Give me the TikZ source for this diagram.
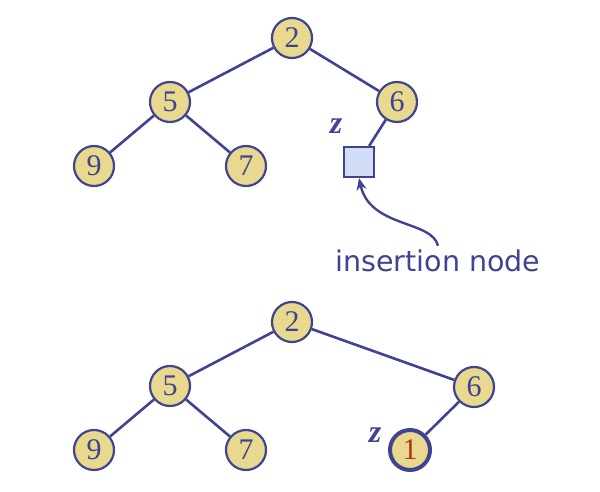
\documentclass[tikz,border=0pt]{standalone}
\usepackage{fontspec}
\setmainfont{Liberation Serif}
\newfontfamily\labelfont{DejaVu Sans}
\usetikzlibrary{arrows.meta}
\definecolor{navy}{HTML}{3F4391}
\definecolor{keyfill}{HTML}{E8D98E}
\definecolor{sqfill}{HTML}{D2DEF8}
\definecolor{newred}{HTML}{B0341C}
\tikzset{
  key/.style={circle, draw=navy, fill=keyfill, line width=2.2pt, minimum size=40pt, inner sep=0pt, text=navy, font=\fontsize{30}{30}\selectfont},
  newkey/.style={key, line width=4pt, minimum size=40pt, text=newred},
  extnode/.style={rectangle, draw=navy, fill=sqfill, line width=2.2pt, minimum size=30pt, inner sep=0pt},
  edge/.style={draw=navy, line width=2.6pt},
  zlabel/.style={text=navy, font=\fontsize{32}{32}\selectfont\bfseries\itshape},
  pointer/.style={draw=navy, line width=2.4pt, -{Stealth[length=12pt,width=10pt]}}
}
\begin{document}
\begin{tikzpicture}[x=1pt,y=-1pt]
\useasboundingbox (0,0) rectangle (600,492);
% top tree
\node[key] (a2) at (292,38) {2};
\node[key] (a5) at (170,102) {5};
\node[key] (a6) at (397,102) {6};
\node[key] (a9) at (94,166) {9};
\node[key] (a7) at (246,166) {7};
\node[extnode] (az) at (359,162) {};
\node[zlabel] (zl1) at (336,126) {z};
\draw[edge] (a2) -- (a5);
\draw[edge] (a2) -- (a6);
\draw[edge] (a5) -- (a9);
\draw[edge] (a5) -- (a7);
\draw[edge] (a6) -- (az);
\node[text=navy, font=\labelfont\fontsize{28.5}{28.5}\selectfont, anchor=base] (ins) at (438,271) {insertion node};
\draw[pointer] (ins.north) .. controls (432,220) and (370,228) .. (az.south);
% bottom tree
\node[key] (b2) at (292,322) {2};
\node[key] (b5) at (170,386) {5};
\node[key] (b6) at (474,387) {6};
\node[key] (b9) at (94,450) {9};
\node[key] (b7) at (246,450) {7};
\node[newkey] (b1) at (410,450) {1};
\node[zlabel] (zl2) at (375,435) {z};
\draw[edge] (b2) -- (b5);
\draw[edge] (b2) -- (b6);
\draw[edge] (b5) -- (b9);
\draw[edge] (b5) -- (b7);
\draw[edge] (b6) -- (b1);
\end{tikzpicture}
\end{document}
